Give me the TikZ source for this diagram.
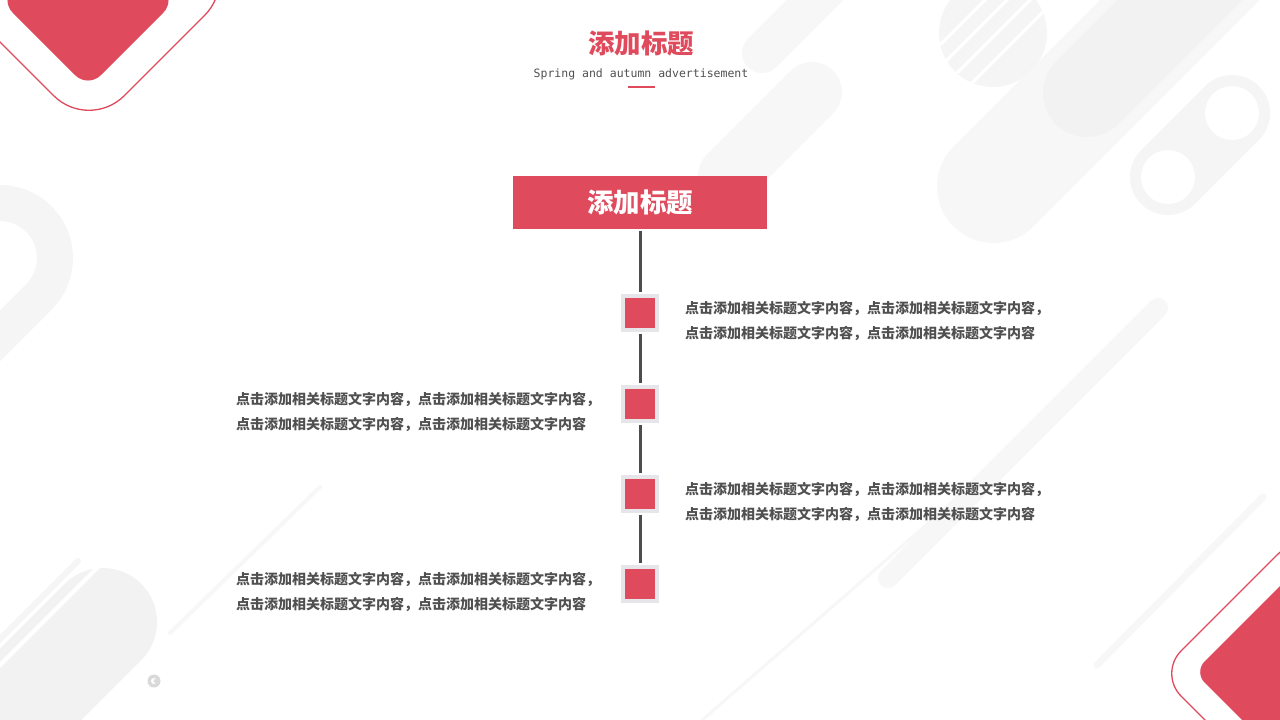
\documentclass[tikz,border=0pt]{standalone}
\usepackage{fontspec}
\usetikzlibrary{calc}
\newfontfamily\cjk{Noto Sans CJK SC}
\newfontfamily\monof{DejaVu Sans Mono}
\definecolor{red1}{HTML}{DF4B5D}
\definecolor{sqb}{HTML}{E6E6EA}
\definecolor{txt}{HTML}{505050}
\definecolor{conn}{HTML}{4D4D4D}
\definecolor{g1}{HTML}{F7F7F7}
\definecolor{g2}{HTML}{F2F2F2}
\definecolor{g3}{HTML}{F5F5F5}
\begin{document}
\begin{tikzpicture}[x=1pt,y=-1pt,
  sq/.style={draw=sqb, line width=4pt, fill=red1, minimum size=34pt, inner sep=0pt},
  body/.style={font=\cjk\bfseries\fontsize{14}{16}\selectfont, text=txt, inner sep=0pt, anchor=base west},
  linkline/.style={draw=conn, line width=3pt, shorten <=2pt, shorten >=2pt},
  pillbg/.style={line cap=round}]
\useasboundingbox (0,0) rectangle (1280,720);
\clip (0,0) rectangle (1280,720);
\fill[white] (0,0) rectangle (1280,720);

% ---- background light shapes ----
% striped circle
\fill[g3] (993,33) circle (54);
\begin{scope}
  \clip (993,33) circle (54);
  \foreach \c in {985,1007,1030,1055}
    \draw[white, line width=3.5pt] (900,\c-900) -- (1100,\c-1100);
\end{scope}
% big pills top right
\draw[g1, pillbg, line width=113pt] (993.5,186.5) -- (1300,-120);
\draw[g2, pillbg, line width=88pt] (1087,93) -- (1300,-120);
% ring pill
\draw[g3, pillbg, line width=76pt] (1168,177) -- (1232,113);
\fill[white] (1168,177) circle (27);
\fill[white] (1232,113) circle (27);
% pills near header
\draw[g1, pillbg, line width=60pt] (728,176) -- (812,92);
\draw[g1, pillbg, line width=40pt] (762,53) -- (840,-25);
% long diagonal pills
\draw[g1, pillbg, line width=20pt] (888,578) -- (1158,308);
\draw[g1, pillbg, line width=7pt] (1097,665) -- (1263,497);
\draw[g1, pillbg, line width=4pt] (170,633) -- (320,487);
\draw[g1, pillbg, line width=3pt] (700,722) -- (955,500);
% bottom-left pill with stripes
\draw[g2, pillbg, line width=108pt] (103,622) -- (-100,825);
\draw[white, line width=4pt] (110,555) -- (-20,685);
\draw[g3, pillbg, line width=6pt] (78,561) -- (-20,659);
% left ring
\draw[g3, line width=36pt] ($(0,258)+(-135:55)$) arc[start angle=-135, end angle=45, radius=55] -- ++(-200,200);
% small icon
\fill[black!15] (154,681) circle (6.5);
\fill[white] (154,681) circle (3);
\fill[black!15] (155.5,681) circle (2);

% ---- red corner shapes ----
\fill[red1, rounded corners=18pt] (88,88) -- (176,0) -- (88,-88) -- (0,0) -- cycle;
\draw[red1, line width=1.3pt, rounded corners=50pt] (89,131) -- (240,-20) -- (89,-171) -- (-62,-20) -- cycle;
\fill[red1, rounded corners=15pt] (1194,672) -- (1300,566) -- (1406,672) -- (1300,778) -- cycle;
\draw[red1, line width=1.3pt, rounded corners=32pt] (1158.5,673.5) -- (1300,532) -- (1441.5,673.5) -- (1300,815) -- cycle;

% ---- header ----
\node[font=\cjk\bfseries\fontsize{26.5}{29}\selectfont, text=red1, inner sep=0pt] (ttl) at (641,43) {添加标题};
\node[font=\monof\fontsize{11.5}{13}\selectfont, text=txt, inner sep=0pt] (sub) at (641,74.5) {Spring and autumn advertisement};
\draw[red1, line width=2.2pt] (628,87) -- (655,87);

% ---- timeline ----
\node[fill=red1, minimum width=254pt, minimum height=53pt, inner sep=0pt,
      font=\cjk\bfseries\fontsize{26.5}{29}\selectfont, text=white] (head) at (640,202.5) {添加标题};
\node[sq] (s1) at (640,313) {};
\node[sq] (s2) at (640,404) {};
\node[sq] (s3) at (640,494) {};
\node[sq] (s4) at (640,584) {};
\path[linkline] (head) -- (s1);
\path[linkline] (s1) -- (s2);
\path[linkline] (s2) -- (s3);
\path[linkline] (s3) -- (s4);

\node[body] (t1a) at (685,313.3) {点击添加相关标题文字内容，点击添加相关标题文字内容，};
\node[body] (t1b) at (685,338.3) {点击添加相关标题文字内容，点击添加相关标题文字内容};
\node[body] (t2a) at (236,404.3) {点击添加相关标题文字内容，点击添加相关标题文字内容，};
\node[body] (t2b) at (236,429.3) {点击添加相关标题文字内容，点击添加相关标题文字内容};
\node[body] (t3a) at (685,494.3) {点击添加相关标题文字内容，点击添加相关标题文字内容，};
\node[body] (t3b) at (685,519.3) {点击添加相关标题文字内容，点击添加相关标题文字内容};
\node[body] (t4a) at (236,584.3) {点击添加相关标题文字内容，点击添加相关标题文字内容，};
\node[body] (t4b) at (236,609.3) {点击添加相关标题文字内容，点击添加相关标题文字内容};
\end{tikzpicture}
\end{document}
